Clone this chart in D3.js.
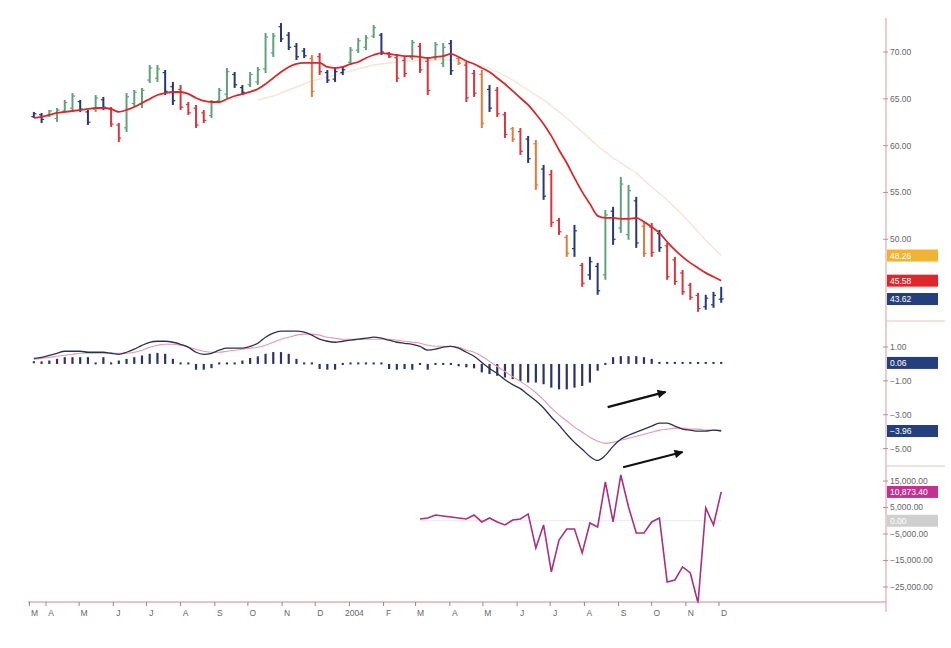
<!DOCTYPE html>
<html><head><meta charset="utf-8">
<script src="https://cdn.jsdelivr.net/npm/d3@7"></script>
<style>body{margin:0;background:#fff}svg{display:block}text{font-family:"Liberation Sans",Arial,sans-serif}</style>
</head><body><svg id="c" width="951" height="648"></svg>
<script>
// ---------- DATA ----------
const firstWeek = "2003-03-21"; // weekly bars
const high = [63.60,63.49,63.81,64.02,64.88,65.62,64.88,63.81,65.41,65.20,
64.13,62.42,65.62,65.94,66.16,68.61,68.61,68.08,66.80,66.48,
64.66,64.34,63.81,64.88,66.16,68.29,67.87,66.48,67.87,68.40,
72.03,72.03,73.09,72.13,70.96,70.43,69.68,69.89,68.08,68.40,
68.40,70.53,71.49,71.81,72.88,72.03,70.00,69.68,69.47,71.28,
70.96,69.47,71.07,70.96,71.28,69.47,68.93,68.08,68.08,66.48,
66.26,63.60,62.00,61.89,61.04,60.61,57.94,57.41,52.28,50.47,
51.54,47.48,48.12,47.48,53.14,53.46,56.66,55.81,54.53,51.75,
51.75,51.00,49.62,48.12,46.73,45.35,44.28,44.07,44.39,44.92];
const low = [62.96,62.42,63.06,62.53,63.49,63.60,63.60,62.21,63.60,63.81,
62.00,60.39,61.46,64.13,64.02,66.69,66.80,65.41,64.34,63.81,
63.28,61.89,62.42,62.96,64.56,65.09,66.16,65.41,66.26,66.48,
67.76,69.47,71.07,70.21,69.15,69.36,65.20,67.55,66.69,66.80,
67.55,68.61,69.89,70.21,71.49,69.68,69.36,66.80,67.33,69.15,
67.76,65.41,69.15,68.40,67.55,68.61,64.66,65.20,61.89,63.60,
63.06,60.82,60.39,59.01,58.15,55.27,54.21,51.32,50.47,48.12,
48.12,44.92,45.67,44.07,45.67,49.40,50.68,49.94,49.08,48.12,
48.12,48.66,45.67,45.13,44.07,43.53,42.25,42.47,42.68,43.21];
const open = [63.1,63.3,63.2,62.9,63.7,64.0,64.7,63.6,63.9,64.9,
63.9,62.2,61.9,64.5,64.4,67.0,67.2,67.8,66.3,66.0,
64.4,64.0,63.5,63.2,64.8,65.5,67.6,66.2,66.5,66.8,
68.2,69.9,72.7,71.8,70.6,70.1,69.3,69.5,67.8,67.1,
67.8,68.9,70.2,70.5,71.7,71.8,69.9,69.4,69.1,69.4,
70.6,69.0,69.4,68.8,70.9,69.3,68.6,67.7,67.6,66.0,
65.9,63.3,61.8,61.5,60.7,60.2,57.5,56.9,52.0,50.2,
49.0,47.2,46.2,47.1,46.2,53.0,51.2,50.5,54.1,51.4,
51.3,50.6,49.3,47.8,46.4,45.1,44.0,42.8,43.0,43.6];
const close = [63.4,62.8,63.7,63.8,64.6,65.3,63.9,62.5,65.1,64.1,
62.3,60.8,65.2,65.7,65.9,68.3,68.2,65.8,64.8,64.1,
63.5,62.2,62.7,64.6,65.9,67.9,66.5,65.7,67.6,68.1,
71.6,71.7,71.4,70.5,69.5,69.6,65.8,67.9,67.0,67.9,
68.1,70.2,71.2,71.5,72.6,70.0,69.5,67.2,67.7,71.0,
68.1,65.9,70.8,70.5,68.0,68.8,65.1,65.6,62.4,64.0,
63.4,61.2,60.7,59.4,58.6,55.8,54.6,51.8,50.8,48.5,
50.9,45.3,47.6,44.5,52.6,50.0,55.9,55.2,49.6,48.5,
48.6,49.1,46.0,45.5,44.4,43.8,42.6,43.7,44.0,43.62];
// bar colour class: g=green n=navy r=red o=orange
const barClass = "nnggggnngn"+"rrgggggnnr"+"rrrgggnngg"+"ggnnnnornn"+"nggggnrrrg"+
                 "rrggnorron"+"rrornonrro"+"nrnngnggno"+"rnrrrrrnnn";
const maShort = [62.96,63.06,63.28,63.49,63.60,63.70,63.81,63.92,64.02,64.02,
63.92,63.60,63.81,64.13,64.56,64.98,65.41,65.62,65.73,65.73,
65.52,65.09,64.77,64.66,64.66,64.98,65.30,65.52,65.73,66.05,
66.58,67.23,67.87,68.40,68.72,68.83,68.83,68.83,68.40,68.29,
68.40,68.72,68.93,69.36,69.68,69.89,69.79,69.68,69.57,69.57,
69.47,69.36,69.47,69.57,69.79,69.47,69.04,68.72,68.29,67.87,
67.23,66.58,65.84,65.09,64.34,63.38,62.32,61.04,59.54,58.15,
56.55,55.06,53.78,52.50,52.28,52.28,52.18,52.18,52.28,51.86,
51.32,50.68,49.72,48.87,48.12,47.48,46.94,46.41,45.99,45.58];
const maLongStart = 29;
const maLong = [64.88,65.09,65.30,65.62,65.94,66.26,66.58,66.91,67.12,67.33,
67.55,67.76,67.97,68.19,68.40,68.61,68.72,68.83,68.93,69.04,
69.04,69.15,69.15,69.15,69.15,69.15,69.04,68.93,68.72,68.51,
68.19,67.87,67.44,67.01,66.48,65.94,65.41,64.88,64.24,63.60,
62.96,62.21,61.46,60.72,59.97,59.33,58.69,58.15,57.62,57.09,
56.3,55.6,54.9,54.2,53.4,52.6,51.7,50.8,49.9,49.1,48.26];
const macd = [0.33,0.39,0.51,0.63,0.75,0.75,0.75,0.69,0.69,0.69,
0.63,0.57,0.69,0.87,1.10,1.28,1.34,1.34,1.28,1.16,
0.99,0.69,0.57,0.63,0.81,0.93,0.93,0.93,1.04,1.22,
1.58,1.82,1.94,1.94,1.94,1.88,1.70,1.46,1.34,1.28,
1.34,1.40,1.46,1.52,1.58,1.52,1.40,1.28,1.22,1.16,
1.04,0.81,0.87,0.99,1.04,0.93,0.69,0.45,0.09,-0.27,
-0.57,-0.93,-1.22,-1.46,-1.82,-2.18,-2.60,-3.13,-3.61,-4.15,
-4.63,-5.04,-5.46,-5.70,-5.40,-4.87,-4.45,-4.21,-4.03,-3.85,
-3.67,-3.49,-3.49,-3.67,-3.85,-3.91,-3.97,-3.97,-3.91,-3.96];
const signal = [0.27,0.33,0.39,0.45,0.51,0.57,0.63,0.63,0.63,0.63,
0.63,0.63,0.63,0.69,0.81,0.99,1.10,1.16,1.16,1.10,
0.99,0.87,0.75,0.69,0.69,0.75,0.81,0.87,0.93,0.99,
1.10,1.28,1.46,1.58,1.70,1.76,1.76,1.70,1.58,1.52,
1.46,1.46,1.46,1.46,1.46,1.46,1.46,1.40,1.34,1.28,
1.22,1.10,1.04,1.04,1.04,0.99,0.81,0.69,0.45,0.15,
-0.15,-0.45,-0.75,-1.04,-1.34,-1.70,-2.12,-2.60,-3.01,-3.37,
-3.73,-4.03,-4.33,-4.57,-4.69,-4.63,-4.51,-4.39,-4.27,-4.15,
-4.03,-3.91,-3.85,-3.79,-3.79,-3.85,-3.85,-3.91,-3.91,-3.91];
const hist = [0.1,0.15,0.2,0.3,0.4,0.4,0.4,0.4,0.03,0.4,
0.03,0.2,0.3,0.4,0.5,0.6,0.65,0.6,0.3,0.03,
0.03,-0.34,-0.34,-0.25,0.03,0.03,0.03,0.2,0.35,0.45,
0.6,0.7,0.7,0.6,0.3,0.03,0.03,-0.3,-0.34,-0.34,
-0.03,0.03,0.03,0.03,0.03,0.03,-0.3,-0.34,-0.3,-0.34,
-0.03,-0.34,-0.03,-0.03,-0.1,-0.14,-0.2,-0.26,-0.5,-0.6,
-0.7,-0.8,-0.9,-1.0,-1.1,-1.1,-1.2,-1.4,-1.5,-1.5,
-1.4,-1.3,-1.1,-0.4,-0.03,0.4,0.46,0.46,0.46,0.4,
0.3,0.06,0.06,0.06,0.06,0.06,0.06,0.06,0.06,0.06];
const oscStart = 50;
const osc = [680,1060,2190,1810,1430,1060,680,2190,-450,1060,
-450,-1590,300,680,2570,-10270,-1590,-19320,-7250,-3090,
-3090,-12150,-830,-2340,14640,-450,17280,5210,-4600,-4600,
-450,1060,-23100,-22340,-17440,-19700,-31020,4830,-1590,10873.40];
const monthTicks = ["2003-03-17","2003-04-01","2003-05-01","2003-06-01","2003-07-01","2003-08-01",
"2003-09-01","2003-10-01","2003-11-01","2003-12-01","2004-01-01","2004-02-01","2004-03-01",
"2004-04-01","2004-05-01","2004-06-01","2004-07-01","2004-08-01","2004-09-01","2004-10-01",
"2004-11-01","2004-12-01"];
const monthLabels = ["M","A","M","J","J","A","S","O","N","D","2004","F","M","A","M","J","J","A","S","O","N","D"];
const priceTicks = [70,65,60,55,50];
const macdTicks = [1,-1,-3,-5];
const oscTicks = [15000,5000,-5000,-15000,-25000];
// annotation arrows in MACD panel: [week index from, value from, week index to, value to]
const arrows = [[74.3,-2.55,81.8,-1.65],[76.3,-6.1,84.0,-5.2]];

// ---------- CHART ----------
const svg = d3.select("#c");
const parse = d3.timeParse("%Y-%m-%d");
const t0 = parse(firstWeek);
const dateOf = i => d3.timeDay.offset(t0, Math.round(7*i));
const dateF = i => new Date(t0.getTime() + i*7*864e5);
const x = d3.scaleTime().domain([parse("2003-04-01"), parse("2004-12-01")]).range([46, 719]);
const yP = d3.scaleLinear().domain([43.62, 70]).range([299, 52]);
const yM = d3.scaleLinear().domain([-3.96, 1]).range([431, 347]);
const yO = d3.scaleLinear().domain([-25000, 15000]).range([587, 481]);
const AX = 886, XB = 602;
const colors = {g:"#62a27a", n:"#26377a", r:"#d8353f", o:"#e27a3c"};

// long MA (faint)
svg.append("path").datum(maLong)
  .attr("d", d3.line().x((d,i)=>x(dateOf(i+maLongStart))).y(d=>yP(d)).curve(d3.curveMonotoneX))
  .attr("fill","none").attr("stroke","#f5e5d6").attr("stroke-width",1.4);

// OHLC bars
const bars = svg.append("g");
high.forEach((h,i)=>{
  const cx = x(dateOf(i)), c = colors[barClass[i]];
  bars.append("line").attr("x1",cx).attr("x2",cx).attr("y1",yP(h)).attr("y2",yP(low[i]))
    .attr("stroke",c).attr("stroke-width",2);
  bars.append("line").attr("x1",cx-2.5).attr("x2",cx).attr("y1",yP(open[i])).attr("y2",yP(open[i]))
    .attr("stroke",c).attr("stroke-width",1.2);
  bars.append("line").attr("x1",cx).attr("x2",cx+2.5).attr("y1",yP(close[i])).attr("y2",yP(close[i]))
    .attr("stroke",c).attr("stroke-width",1.2);
});

// short MA (red)
svg.append("path").datum(maShort)
  .attr("d", d3.line().x((d,i)=>x(dateOf(i))).y(d=>yP(d)).curve(d3.curveMonotoneX))
  .attr("fill","none").attr("stroke","#d42a2e").attr("stroke-width",1.8);

// MACD histogram
svg.append("g").selectAll("rect").data(hist).join("rect")
  .attr("x",(d,i)=>x(dateOf(i))-1.1).attr("width",2.2)
  .attr("y",d=>Math.min(yM(0),yM(d))-(Math.abs(yM(d)-yM(0))<2?1:0))
  .attr("height",d=>Math.max(2,Math.abs(yM(d)-yM(0))))
  .attr("fill","#2a3566");
// signal
svg.append("path").datum(signal)
  .attr("d", d3.line().x((d,i)=>x(dateOf(i))).y(d=>yM(d)).curve(d3.curveMonotoneX))
  .attr("fill","none").attr("stroke","#e69aac").attr("stroke-width",1.1);
// macd
svg.append("path").datum(macd)
  .attr("d", d3.line().x((d,i)=>x(dateOf(i))).y(d=>yM(d)).curve(d3.curveMonotoneX))
  .attr("fill","none").attr("stroke","#2b3050").attr("stroke-width",1.3);

// arrows
const defs = svg.append("defs");
defs.append("marker").attr("id","ah").attr("viewBox","0 0 10 10").attr("refX",9).attr("refY",5)
  .attr("markerWidth",5).attr("markerHeight",4).attr("orient","auto")
  .append("path").attr("d","M0,0L10,5L0,10z").attr("fill","#111");
arrows.forEach(a=>{
  svg.append("line").attr("x1",x(dateF(a[0]))).attr("y1",yM(a[1]))
    .attr("x2",x(dateF(a[2]))).attr("y2",yM(a[3]))
    .attr("stroke","#111").attr("stroke-width",2.2).attr("marker-end","url(#ah)");
});

// oscillator panel
svg.append("line").attr("x1",x(dateOf(oscStart))).attr("x2",x(dateOf(high.length-1)))
  .attr("y1",yO(0)).attr("y2",yO(0)).attr("stroke","#e8e8e8").attr("stroke-width",1);
svg.append("path").datum(osc)
  .attr("d", d3.line().x((d,i)=>x(dateOf(i+oscStart))).y(d=>yO(d)))
  .attr("fill","none").attr("stroke","#a8307e").attr("stroke-width",1.6);

// right axis
svg.append("line").attr("x1",AX).attr("x2",AX).attr("y1",18).attr("y2",612)
  .attr("stroke","#d99a9a").attr("stroke-width",1);
[[321],[466]].forEach(([yy])=>svg.append("line").attr("x1",AX).attr("x2",945).attr("y1",yy).attr("y2",yy)
  .attr("stroke","#e6c4c4").attr("stroke-width",1));
function tickLabels(vals, sc, fmt){
  vals.forEach(v=>{
    svg.append("line").attr("x1",AX-3).attr("x2",AX+2).attr("y1",sc(v)).attr("y2",sc(v)).attr("stroke","#c98a8a");
    svg.append("text").attr("x",AX+4).attr("y",sc(v)).attr("dy","0.35em")
      .attr("font-size",8.5).attr("fill","#666").text(fmt(v));
  });
}
tickLabels(priceTicks, yP, d3.format(".2f"));
tickLabels(macdTicks, yM, d3.format(".2f"));
tickLabels(oscTicks, yO, d3.format(",.2f"));
function valueBox(y, fill, txt, tc){
  svg.append("rect").attr("x",AX+1).attr("y",y-6).attr("width",51).attr("height",12).attr("fill",fill);
  svg.append("text").attr("x",AX+4).attr("y",y).attr("dy","0.35em").attr("font-size",8.5)
    .attr("fill",tc||"#fff").text(txt);
}
valueBox(yP(maLong[maLong.length-1]), "#f2b232", d3.format(".2f")(maLong[maLong.length-1]));
valueBox(yP(maShort[maShort.length-1]), "#e0262c", d3.format(".2f")(maShort[maShort.length-1]));
valueBox(yP(close[close.length-1]), "#253f7c", d3.format(".2f")(close[close.length-1]));
valueBox(yM(hist[hist.length-1]), "#253f7c", d3.format(".2f")(hist[hist.length-1]));
valueBox(yM(macd[macd.length-1]), "#253f7c", d3.format(".2f")(macd[macd.length-1]));
valueBox(yO(osc[osc.length-1]), "#c23192", d3.format(",.2f")(osc[osc.length-1]));
valueBox(yO(0), "#cfcfcf", "0.00");

// bottom axis
svg.append("line").attr("x1",28).attr("x2",AX).attr("y1",XB).attr("y2",XB)
  .attr("stroke","#d08a8a").attr("stroke-width",1.2);
monthTicks.forEach((m,i)=>{
  const tx = x(parse(m));
  svg.append("line").attr("x1",tx).attr("x2",tx).attr("y1",XB).attr("y2",XB+4).attr("stroke","#888");
  svg.append("text").attr("x",tx+5).attr("y",616).attr("text-anchor","middle")
    .attr("font-size",8.5).attr("fill","#666").text(monthLabels[i]);
});
</script></body></html>
